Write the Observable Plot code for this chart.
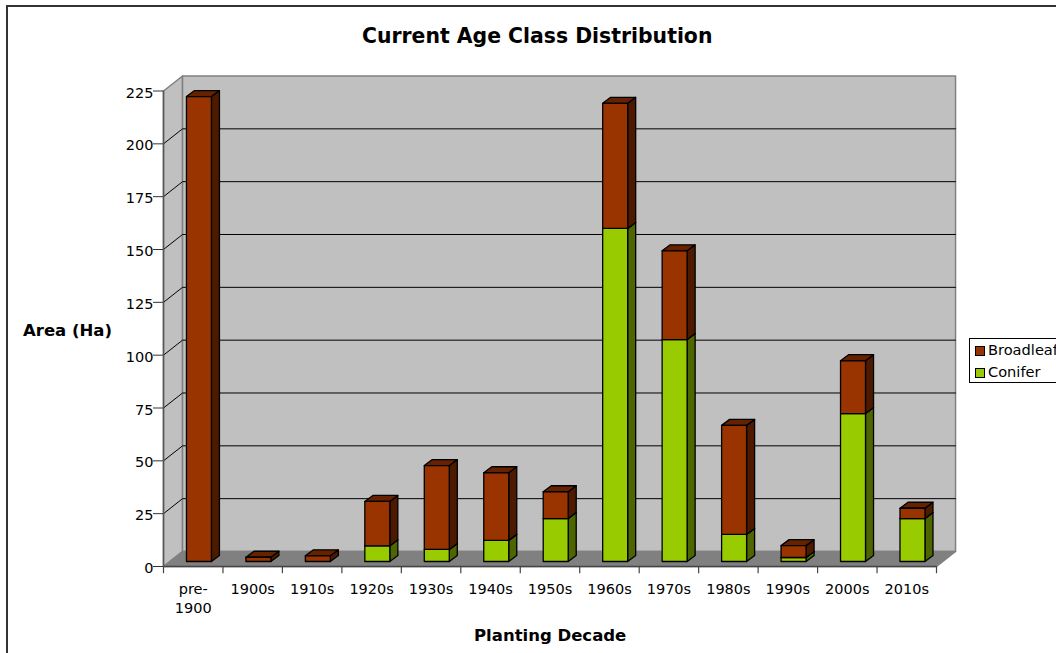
<!DOCTYPE html>
<html><head><meta charset="utf-8">
<script src="https://cdn.jsdelivr.net/npm/d3@7"></script>
<script src="https://cdn.jsdelivr.net/npm/@observablehq/plot@0.6"></script>
<style>
html,body{margin:0;padding:0;background:#fff;width:1056px;height:653px;overflow:hidden;font-family:"DejaVu Sans",sans-serif;color:#000}
#wrap{position:relative;width:1056px;height:653px;overflow:hidden}
#wrap svg{position:absolute;left:0;top:0}
.abs{position:absolute;white-space:nowrap}
#frame{left:6px;top:5px;width:1100px;height:700px;border-left:2px solid #333;border-top:2px solid #333}
#title{left:362px;top:24px;font-weight:bold;font-size:20.4px;line-height:24px}
#xlabel{left:474px;top:626px;font-weight:bold;font-size:16.5px;line-height:20px}
#ylabel{left:23px;top:321px;font-weight:bold;font-size:16.5px;line-height:20px}
#legend{left:969px;top:338px;width:120px;height:43px;border:1px solid #000;background:#fff;font-size:14.6px}
.key{position:absolute;left:5px;width:8px;height:8px;border:1px solid #000}
.lab{position:absolute;left:18px;line-height:18px}
</style></head><body>
<div id="wrap"><div id="frame" class="abs"></div></div>
<script>
const decades = ["pre-\n1900","1900s","1910s","1920s","1930s","1940s","1950s","1960s","1970s","1980s","1990s","2000s","2010s"];
const conifer = [0,0,0,7.4,5.7,10,20.3,157.6,105,12.8,1.9,70,20.3];
const broadleaf = [220,2,2.7,21,39.7,32,12.7,59.2,42,51.6,5.6,25,4.9];
const yTicks = [0,25,50,75,100,125,150,175,200,225];
const colors = {
  Broadleaf:{front:"#993300",side:"#4d1a00",top:"#662200"},
  Conifer:{front:"#99cc00",side:"#4d6600",top:"#668800"}
};
// oblique projection, in scale units
const n = decades.length, yMax = 225;
const wallDx = 0.32, wallDy = 7.1;
const barDx = 0.135, barDy = 2.84, barHalf = 0.21, barShift = 0.096, barLift = 2.37;

const poly = (id, fill, pts) => pts.map(([x,y]) => ({id, fill, x, y}));
const walls = [
  ...poly("left","#c0c0c0",[[0,0],[wallDx,wallDy],[wallDx,yMax+wallDy],[0,yMax]]),
  ...poly("back","#c0c0c0",[[wallDx,wallDy],[n+wallDx,wallDy],[n+wallDx,yMax+wallDy],[wallDx,yMax+wallDy]]),
  ...poly("floor","#808080",[[0,0],[n,0],[n+wallDx,wallDy],[wallDx,wallDy]])
];
const grid = yTicks.filter(v => v>0 && v<yMax).flatMap(v => [
  {id:v,x:0,y:v},{id:v,x:wallDx,y:v+wallDy},{id:v,x:n+wallDx,y:v+wallDy}
]);
const bars = [];
decades.forEach((d,i) => {
  const x0 = i+0.5+barShift-barHalf, x1 = i+0.5+barShift+barHalf;
  const segs = [["Conifer",0,conifer[i]],["Broadleaf",conifer[i],conifer[i]+broadleaf[i]]];
  segs.forEach(([name,a,b]) => {
    if (b<=a) return;
    const y0=a+barLift, y1=b+barLift, c=colors[name];
    bars.push(...poly(`${i}${name}side`,c.side,[[x1,y0],[x1+barDx,y0+barDy],[x1+barDx,y1+barDy],[x1,y1]]));
    bars.push(...poly(`${i}${name}top`,c.top,[[x0,y1],[x1,y1],[x1+barDx,y1+barDy],[x0+barDx,y1+barDy]]));
    bars.push(...poly(`${i}${name}front`,c.front,[[x0,y0],[x1,y0],[x1,y1],[x0,y1]]));
  });
});
const closed = {x:"x",y:"y",z:"id",fill:"fill",curve:"linear-closed"};
const plot = Plot.plot({
  width:1056,height:653,
  marginLeft:163,marginRight:120,marginTop:90.5,marginBottom:87,
  style:{fontFamily:"'DejaVu Sans',sans-serif",fontSize:"14.5px",background:"transparent",color:"#000"},
  x:{domain:[0,n],axis:null},
  y:{domain:[0,yMax],axis:null},
  marks:[
    Plot.line(walls,{...closed,stroke:"#808080",strokeWidth:1.5,strokeOpacity:1}),
    Plot.line(grid,{x:"x",y:"y",z:"id",stroke:"#000",strokeWidth:1}),
    Plot.ruleY([0],{x1:0,x2:n,stroke:"#444",strokeWidth:1.5}),
    Plot.ruleX([0],{y1:0,y2:yMax,stroke:"#555",strokeWidth:1.5}),
    Plot.ruleY(yTicks,{x1:0,x2:-0.168,stroke:"#333"}),
    Plot.text(yTicks,{x:0,y:d=>d,text:d=>String(d),dx:-10,dy:2,textAnchor:"end",fill:"#000",fontSize:14.5}),
    Plot.ruleX(d3.range(n+1),{y1:0,y2:-3.4,stroke:"#444",strokeWidth:1.2}),
    Plot.text(decades,{x:(d,i)=>i+0.5,y:0,text:d=>d,dy:14,lineAnchor:"top",lineHeight:1.3,fill:"#000",fontSize:14.5}),
    Plot.line(bars,{...closed,stroke:"#000",strokeWidth:1.3})
  ]
});
const wrap = document.getElementById("wrap");
wrap.appendChild(plot);
const add = (id,html,cls="abs") => {const e=document.createElement("div");e.id=id;e.className=cls;e.innerHTML=html;wrap.appendChild(e);return e;};
add("title","Current Age Class Distribution");
add("xlabel","Planting Decade");
add("ylabel","Area (Ha)");
add("legend",`<div class="key" style="top:7px;background:${colors.Broadleaf.front}"></div><div class="lab" style="top:2px">Broadleaf</div>
<div class="key" style="top:29px;background:${colors.Conifer.front}"></div><div class="lab" style="top:24px">Conifer</div>`);
</script>
</body></html>
